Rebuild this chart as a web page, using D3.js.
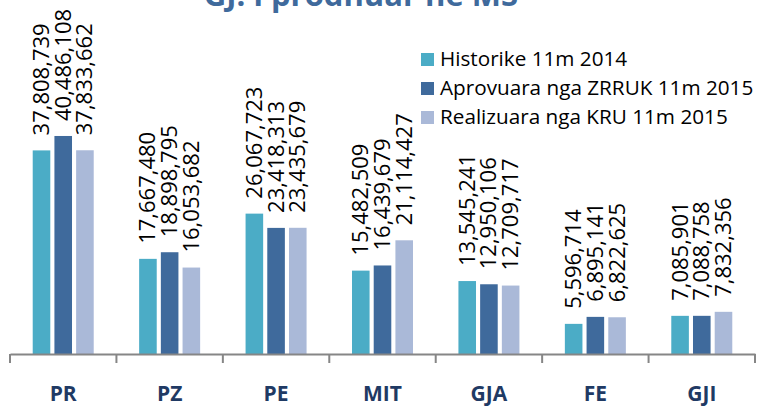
<!DOCTYPE html>
<html>
<head>
<meta charset="utf-8">
<script src="https://cdn.jsdelivr.net/npm/d3@7"></script>
<style>
html,body{margin:0;padding:0;background:#fff;}
svg{display:block;}
</style>
</head>
<body>
<svg id="chart" width="759" height="407"></svg>
<script>
const title = "GJ. i prodhuar në MS";
const categories = ["PR","PZ","PE","MIT","GJA","FE","GJI"];
const seriesNames = ["Historike 11m 2014","Aprovuara nga ZRRUK 11m 2015","Realizuara nga KRU 11m 2015"];
const historike = [37808739,17667480,26067723,15482509,13545241,5596714,7085901];
const aprovuara = [40486108,18898795,23418313,16439679,12950106,6895141,7088758];
const realizuara = [37833662,16053682,23435679,21114427,12709717,6822625,7832356];
const seriesColors = ["#4BACC6","#3F6A9C","#AAB9D8"];

const seriesValues = [historike, aprovuara, realizuara];
const svg = d3.select("#chart");
const baseY = 354;

const x0 = d3.scaleBand().domain(categories).range([10, 755]).padding(0);
const groupW = 61;
const x1 = d3.scaleBand().domain(seriesNames).range([0, groupW]).paddingInner(0.19).paddingOuter(0);
const y = d3.scaleLinear().domain([0, 45000000]).range([baseY, baseY - 45 * 5.385]);

const fmt = d3.format(",");

// title (cut off at top, as in the reference)
svg.append("text")
  .attr("x", 361).attr("y", 6)
  .attr("text-anchor", "middle")
  .attr("font-family", "'Open Sans', sans-serif")
  .attr("font-weight", "bold")
  .attr("font-size", 31)
  .attr("fill", "#3F6A9C")
  .text(title);

// bars
const groups = svg.append("g").selectAll("g")
  .data(categories)
  .join("g")
  .attr("transform", c => `translate(${x0(c) + (x0.bandwidth() - groupW) / 2},0)`);

groups.selectAll("rect")
  .data((c, i) => seriesNames.map((s, j) => ({s, j, v: seriesValues[j][i]})))
  .join("rect")
  .attr("x", d => x1(d.s))
  .attr("width", x1.bandwidth())
  .attr("y", d => y(d.v))
  .attr("height", d => baseY - y(d.v))
  .attr("fill", d => seriesColors[d.j]);

groups.selectAll("text.val")
  .data((c, i) => seriesNames.map((s, j) => ({s, j, v: seriesValues[j][i]})))
  .join("text")
  .attr("class", "val")
  .attr("transform", d => `translate(${x1(d.s) + x1.bandwidth() / 2 + 7.5},${y(d.v) - 15}) rotate(-90)`)
  .attr("text-anchor", "start")
  .attr("font-family", "'Open Sans', sans-serif")
  .attr("font-size", 22)
  .attr("fill", "#000")
  .text(d => fmt(d.v));

// axis
const axis = d3.axisBottom(x0).tickSize(0).tickFormat("");
const axG = svg.append("g").attr("transform", `translate(0,${baseY})`).call(axis);
axG.select(".domain").attr("stroke", "#868686").attr("stroke-width", 2);
const bounds = categories.map(c => x0(c)).concat([x0.range()[1]]);
svg.append("g").selectAll("line")
  .data(bounds)
  .join("line")
  .attr("x1", d => d).attr("x2", d => d)
  .attr("y1", baseY).attr("y2", baseY + 9)
  .attr("stroke", "#868686").attr("stroke-width", 2);

svg.append("g").selectAll("text")
  .data(categories)
  .join("text")
  .attr("x", c => x0(c) + x0.bandwidth() / 2)
  .attr("y", 401)
  .attr("text-anchor", "middle")
  .attr("font-family", "'Open Sans', sans-serif")
  .attr("font-weight", "bold")
  .attr("font-size", 21)
  .attr("fill", "#1F3A64")
  .text(c => c);

// legend
const leg = svg.append("g");
seriesNames.forEach((s, j) => {
  const yy = 66 + j * 29;
  leg.append("rect").attr("x", 421).attr("y", yy - 13).attr("width", 13).attr("height", 13).attr("fill", seriesColors[j]);
  leg.append("text").attr("x", 440).attr("y", yy)
    .attr("font-family", "'Open Sans', sans-serif")
    .attr("font-size", 20.7)
    .attr("fill", "#000")
    .text(s);
});
</script>
</body>
</html>
